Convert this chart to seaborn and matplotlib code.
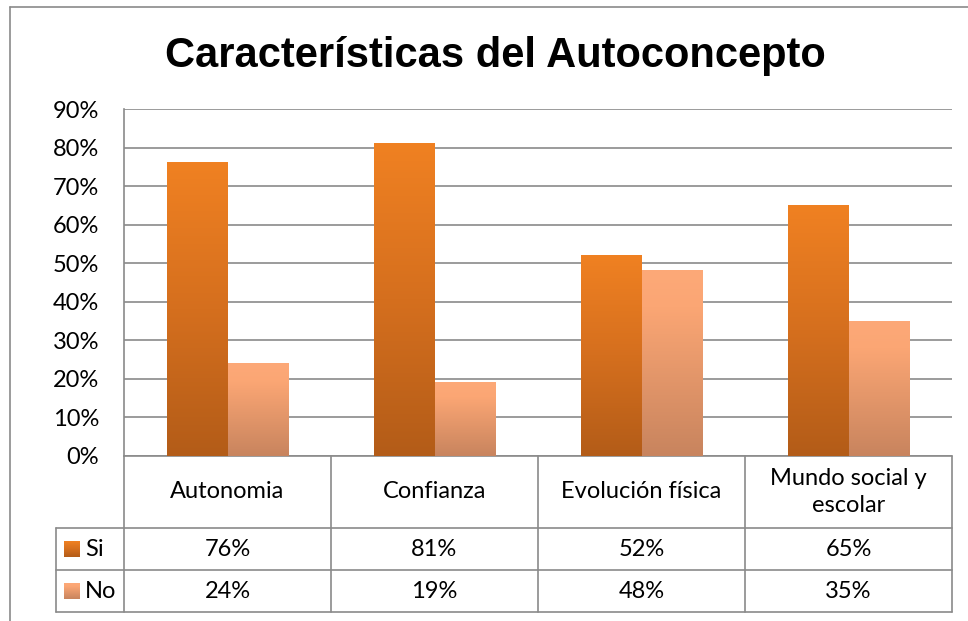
import numpy as np
import pandas as pd
import matplotlib
matplotlib.use("Agg")
import matplotlib.pyplot as plt
import matplotlib.transforms as mtransforms
from matplotlib.colors import LinearSegmentedColormap
import seaborn as sns

# data
categories = ["Autonomia", "Confianza", "Evolución física", "Mundo social y\nescolar"]
series_names = ["Si", "No"]
si_values = [0.76, 0.81, 0.52, 0.65]
no_values = [0.24, 0.19, 0.48, 0.35]
si_labels = ["76%", "81%", "52%", "65%"]
no_labels = ["24%", "19%", "48%", "35%"]
ytick_values = [0.0, 0.1, 0.2, 0.3, 0.4, 0.5, 0.6, 0.7, 0.8, 0.9]

df = pd.DataFrame({
    "cat": categories * 2,
    "serie": ["Si"] * 4 + ["No"] * 4,
    "val": si_values + no_values,
})

sns.set_style("white")
plt.rcParams["font.family"] = ["Lato", "DejaVu Sans"]
plt.rcParams["text.color"] = "black"
plt.rcParams["ytick.color"] = "black"

W, H = 968, 621
fig = plt.figure(figsize=(W / 100, H / 100), dpi=100)

def fx(x):
    return x / W

def fy(y):
    return 1 - y / H

# plot area in pixels
L, R, T, B = 124, 952, 109, 456
ax = fig.add_axes([fx(L), fy(B), fx(R) - fx(L), fy(T) - fy(B)])

grid_col = "#8a8a8a"
fs = 17
sns.barplot(data=df, x="cat", y="val", hue="serie", hue_order=series_names,
            palette={"Si": "#E07A20", "No": "#F0A070"}, width=0.58,
            legend=False, ax=ax, zorder=3)

cmap_si = LinearSegmentedColormap.from_list("si", ["#F08122", "#D56F1E", "#B35C18"])
cmap_no = LinearSegmentedColormap.from_list("no", [(0, "#FDA978"), (0.2, "#FBA674"), (1, "#C8845E")])
grad = np.linspace(0, 1, 256).reshape(-1, 1)

for cont, cm in zip(ax.containers, [cmap_si, cmap_no]):
    for p in cont:
        x0, y0, w, h = p.get_x(), p.get_y(), p.get_width(), p.get_height()
        ax.imshow(grad, cmap=cm, extent=[x0, x0 + w, y0, y0 + h],
                  aspect="auto", zorder=3, interpolation="bilinear")
        p.set_visible(False)

ax.set_xlim(-0.5, 3.5)
ax.set_ylim(0, 0.9)
ax.set_yticks(ytick_values)
ax.set_yticklabels([f"{v:.0%}" for v in ytick_values], fontsize=fs)
ax.tick_params(axis="y", length=0, pad=18)
ax.set_xticks([])
ax.set_xlabel("")
ax.set_ylabel("")
ax.yaxis.grid(True, color=grid_col, linewidth=1.2)
ax.set_axisbelow(True)
for s in ["top", "right", "bottom"]:
    ax.spines[s].set_visible(False)
ax.spines["left"].set_color(grid_col)
ax.spines["left"].set_linewidth(1.2)

# data table under the plot
trans = mtransforms.blended_transform_factory(ax.transData, ax.transAxes)
ph = B - T
def ay(y):
    return (B - y) / ph

row_head, row_si, row_no = 528, 570, 612
leg_left = -0.5 + (56 - L) / ((R - L) / 4)
line_kw = dict(color=grid_col, linewidth=1.2, transform=trans, clip_on=False)

ax.plot([-0.5, 3.5], [0, 0], **line_kw)
for yy in [row_head, row_si, row_no]:
    ax.plot([leg_left, 3.5], [ay(yy), ay(yy)], **line_kw)
for i in range(5):
    ax.plot([i - 0.5, i - 0.5], [0, ay(row_no)], **line_kw)
ax.plot([leg_left, leg_left], [ay(row_head), ay(row_no)], **line_kw)

for i, c in enumerate(categories):
    ax.text(i, ay((B + row_head) / 2), c, transform=trans, ha="center", va="center",
            fontsize=fs, linespacing=1.3)
    ax.text(i, ay((row_head + row_si) / 2), si_labels[i], transform=trans,
            ha="center", va="center", fontsize=fs)
    ax.text(i, ay((row_si + row_no) / 2), no_labels[i], transform=trans,
            ha="center", va="center", fontsize=fs)

# legend keys inside the table
for name, cm, (ytop, ybot) in [("Si", cmap_si, (row_head, row_si)), ("No", cmap_no, (row_si, row_no))]:
    cy = (ytop + ybot) / 2
    kax = fig.add_axes([fx(64), fy(cy + 8), fx(80) - fx(64), fy(cy - 8) - fy(cy + 8)])
    kax.imshow(grad, cmap=cm, aspect="auto")
    kax.axis("off")
    fig.text(fx(85), fy(cy), name, ha="left", va="center", fontsize=fs)

# title
fig.text(fx(495), fy(56), "Características del Autoconcepto", ha="center", va="center",
         fontsize=30, fontweight="bold", family=["Liberation Sans", "DejaVu Sans"])

# chart border (cropped at right and bottom)
fig.add_artist(plt.Line2D([fx(10), fx(10)], [fy(7), 0], color=grid_col, linewidth=1.2))
fig.add_artist(plt.Line2D([fx(10), 1], [fy(7), fy(7)], color=grid_col, linewidth=1.2))

fig.savefig("out.png", dpi=100)
